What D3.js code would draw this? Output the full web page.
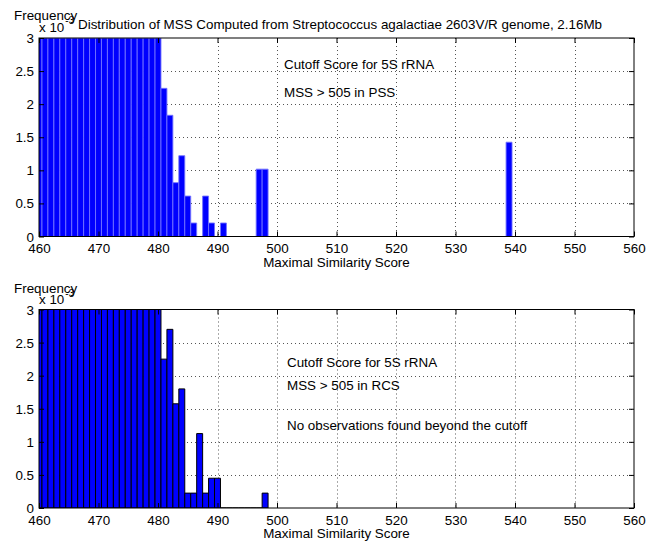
<!DOCTYPE html>
<html>
<head>
<meta charset="utf-8">
<script src="https://cdn.jsdelivr.net/npm/d3@7"></script>
<style>
  html, body { margin: 0; padding: 0; background: #fff; }
  svg { display: block; }
  text { font-family: "Liberation Sans", Arial, Helvetica, sans-serif; fill: #000; }
</style>
</head>
<body>
<svg id="chart" width="655" height="541"></svg>
<script>
// ---- Data (frequency in units of 1e-3), one bin per integer score starting at 460 ----
const firstScore = 460;
// Streptococcus agalactiae PSS histogram (bins 460..539); bins 460-480 exceed the axis limit (clipped at 3)
const pssFreq = [
  3, 3, 3, 3, 3, 3, 3, 3, 3, 3,            // 460-469
  3, 3, 3, 3, 3, 3, 3, 3, 3, 3,            // 470-479
  3, 2.239, 1.832, 0.814, 1.221, 0.611, 0.204, 0, 0.611, 0.204, // 480-489
  0, 0.204, 0, 0, 0, 0, 0, 1.018, 1.018, 0, // 490-499
  0, 0, 0, 0, 0, 0, 0, 0, 0, 0,            // 500-509
  0, 0, 0, 0, 0, 0, 0, 0, 0, 0,            // 510-519
  0, 0, 0, 0, 0, 0, 0, 0, 0, 0,            // 520-529
  0, 0, 0, 0, 0, 0, 0, 0, 0, 1.425         // 530-539
];
// RCS histogram (bins 460..498)
const rcsFreq = [
  3, 3, 3, 3, 3, 3, 3, 3, 3, 3,            // 460-469
  3, 3, 3, 3, 3, 3, 3, 3, 3, 3,            // 470-479
  3, 2.25, 2.70, 1.575, 1.80, 0.225, 0.225, 1.125, 0.225, 0.45, // 480-489
  0.45, 0, 0, 0, 0, 0, 0, 0, 0.225          // 490-498
];
const xTicks = [460, 470, 480, 490, 500, 510, 520, 530, 540, 550, 560];
const yTicks = [0, 0.5, 1, 1.5, 2, 2.5, 3];
const yTickLabels = ["0", "0.5", "1", "1.5", "2", "2.5", "3"];
const titleText = "Distribution of MSS Computed from Streptococcus agalactiae 2603V/R genome, 2.16Mb";
const xLabel = "Maximal Similarity Score";
const yLabel = "Frequency";
const topNotes = ["Cutoff Score for 5S rRNA", "MSS > 505 in PSS"];
const bottomNotes = ["Cutoff Score for 5S rRNA", "MSS > 505 in RCS", "No observations found beyond the cutoff"];

// ---- Drawing ----
const svg = d3.select("#chart");
const FONT = 13.4;

function panel(cfg) {
  const x = d3.scaleLinear().domain([460, 560]).range([39, 634]);
  const y = d3.scaleLinear().domain([0, 3]).range([cfg.bottom, cfg.top]);
  const g = svg.append("g");
  const clipId = "clip" + cfg.id;
  g.append("clipPath").attr("id", clipId)
    .append("rect").attr("x", x(460)).attr("y", y(3))
    .attr("width", x(560) - x(460)).attr("height", y(0) - y(3));

  // grid
  const grid = g.append("g").attr("stroke", "#555").attr("stroke-width", 1)
    .attr("stroke-dasharray", "1,3");
  grid.selectAll("line.gx").data(xTicks.slice(1, -1)).join("line")
    .attr("x1", d => Math.round(x(d)) + 0.5).attr("x2", d => Math.round(x(d)) + 0.5)
    .attr("y1", y(3)).attr("y2", y(0));
  grid.selectAll("line.gy").data(yTicks.slice(1, -1)).join("line")
    .attr("y1", d => Math.round(y(d)) + 0.5).attr("y2", d => Math.round(y(d)) + 0.5)
    .attr("x1", x(460)).attr("x2", x(560));

  // bars (paths so zero-height bins still show their edge line)
  const bins = cfg.data.map((v, i) => ({ s: firstScore + i, v }));
  g.append("g").attr("clip-path", `url(#${clipId})`)
    .selectAll("path").data(bins).join("path")
    .attr("d", d => {
      const x0 = x(d.s - 0.5), x1 = x(d.s + 0.5), y0 = y(0), y1 = y(d.v);
      return `M${x0},${y0}L${x0},${y1}L${x1},${y1}L${x1},${y0}Z`;
    })
    .attr("fill", "#0000ff")
    .attr("stroke", cfg.edge)
    .attr("stroke-width", cfg.edgeWidth);

  // axes with inward ticks on all four sides
  const bAxis = d3.axisBottom(x).tickValues(xTicks).tickSize(-5).tickFormat(d => d);
  const tAxis = d3.axisTop(x).tickValues(xTicks).tickSize(-5).tickFormat("");
  const lAxis = d3.axisLeft(y).tickValues(yTicks).tickSize(-5).tickFormat((d, i) => yTickLabels[i]);
  const rAxis = d3.axisRight(y).tickValues(yTicks).tickSize(-5).tickFormat("");

  const gb = g.append("g").attr("transform", `translate(0,${y(0)})`).call(bAxis);
  gb.selectAll("text").attr("dy", null).attr("y", 16.5).style("font-size", FONT + "px")
    .style("font-family", '"Liberation Sans", Arial, sans-serif');
  g.append("g").attr("transform", `translate(0,${y(3)})`).call(tAxis);
  const gl = g.append("g").attr("transform", `translate(${x(460)},0)`).call(lAxis);
  gl.selectAll("text").attr("x", -5).attr("dy", "0.34em").style("font-size", FONT + "px")
    .style("font-family", '"Liberation Sans", Arial, sans-serif');
  g.append("g").attr("transform", `translate(${x(560)},0)`).call(rAxis);
  g.selectAll(".domain").remove();
  g.selectAll(".tick line").attr("stroke", "#000");

  // box
  g.append("rect").attr("x", x(460)).attr("y", y(3))
    .attr("width", x(560) - x(460)).attr("height", y(0) - y(3))
    .attr("fill", "none").attr("stroke", "#000").attr("stroke-width", 1);

  // labels
  g.append("text").attr("x", (x(460) + x(560)) / 2).attr("y", y(0) + 30)
    .attr("text-anchor", "middle").style("font-size", FONT + "px").text(xLabel);
  g.append("text").attr("x", 14).attr("y", cfg.freqY).style("font-size", FONT + "px").text(yLabel);
  const ex = g.append("text").attr("x", 39).attr("y", cfg.freqY + 11.5).style("font-size", FONT + "px");
  ex.append("tspan").text("x 10");
  ex.append("tspan").attr("dy", -7.5).attr("dx", 1).style("font-size", "10px").text("-3");

  cfg.notes.forEach((t, i) => {
    g.append("text").attr("x", cfg.noteX).attr("y", cfg.noteY[i])
      .style("font-size", FONT + "px").text(t);
  });
  return g;
}

panel({ id: "a", top: 38, bottom: 236.5, data: pssFreq, edge: "#7373ff", edgeWidth: 0.9,
        freqY: 20, notes: topNotes, noteX: 284, noteY: [68.5, 96.5] });
panel({ id: "b", top: 309.5, bottom: 508, data: rcsFreq, edge: "#000", edgeWidth: 1,
        freqY: 292.5, notes: bottomNotes, noteX: 287, noteY: [367, 389.5, 430] });

svg.append("text").attr("x", 78).attr("y", 28.5).style("font-size", FONT + "px").text(titleText);
</script>
</body>
</html>
